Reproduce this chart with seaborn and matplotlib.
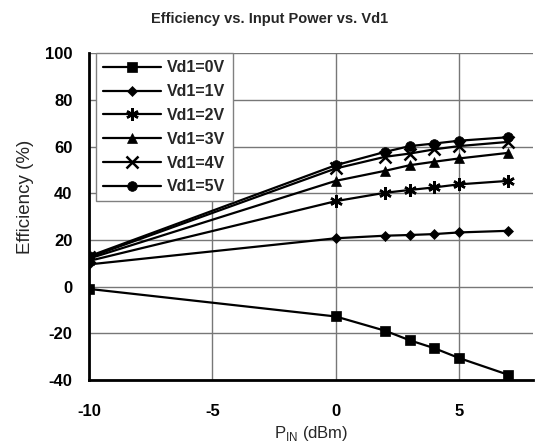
import matplotlib
matplotlib.use("Agg")
import matplotlib.pyplot as plt
import seaborn as sns
import pandas as pd
import numpy as np

# Input power sweep (dBm) and efficiency (%) for each Vd1 setting
p_in = [-10, 0, 2, 3, 4, 5, 7]
eff_0v = [-1.0, -12.8, -18.9, -23.0, -26.4, -30.6, -37.8]
eff_1v = [9.5, 20.7, 21.8, 22.1, 22.5, 23.2, 23.9]
eff_2v = [11.0, 36.6, 40.2, 41.4, 42.5, 43.8, 45.3]
eff_3v = [12.0, 45.3, 49.6, 52.0, 53.5, 54.9, 57.3]
eff_4v = [12.5, 50.6, 55.6, 57.0, 58.8, 60.2, 62.0]
eff_5v = [13.0, 52.0, 57.7, 60.2, 61.3, 62.5, 64.0]
labels = ["Vd1=0V", "Vd1=1V", "Vd1=2V", "Vd1=3V", "Vd1=4V", "Vd1=5V"]
x_ticks = [-10, -5, 0, 5]
y_ticks = [-40, -20, 0, 20, 40, 60, 80, 100]

sns.set_theme(style="white")
plt.rcParams['font.family'] = ['Liberation Sans', 'DejaVu Sans']
plt.rcParams['axes.unicode_minus'] = False
plt.rcParams['mathtext.fontset'] = 'custom'
plt.rcParams['mathtext.rm'] = 'Liberation Sans'

series = [eff_0v, eff_1v, eff_2v, eff_3v, eff_4v, eff_5v]
markers = ['s', 'D', (6, 2, 0), '^', 'x', 'o']
msizes = [7, 5, 9, 7, 8, 7]

fig, ax = plt.subplots(figsize=(5.4, 4.47), dpi=100)
fig.subplots_adjust(left=0.165, right=0.987, top=0.881, bottom=0.150)

for vals, lab, m, ms in zip(series, labels, markers, msizes):
    sns.lineplot(x=p_in, y=vals, ax=ax, color='black', linewidth=1.6,
                 marker=m, markersize=ms, markeredgewidth=1.8 if m in ('x', (6, 2, 0)) else 0.5,
                 markeredgecolor='black', markerfacecolor='black', label=lab)

ax.set_xlim(-10, 8)
ax.set_ylim(-40, 100)
ax.set_xticks(x_ticks)
ax.set_yticks(y_ticks)
ax.grid(True, color='#777777', linewidth=1.0)
ax.set_axisbelow(True)
for s in ('top', 'right'):
    ax.spines[s].set_visible(False)
for s in ('left', 'bottom'):
    ax.spines[s].set_color('black')
    ax.spines[s].set_linewidth(2.0)
ax.tick_params(axis='both', direction='inout', length=8, width=1.8, color='black',
               labelsize=12, labelcolor='black')
ax.tick_params(axis='y', pad=8)
ax.tick_params(axis='x', pad=13)
for t in ax.get_xticklabels() + ax.get_yticklabels():
    t.set_fontweight('bold')

fig.text(0.5, 0.958, "Efficiency vs. Input Power vs. Vd1", fontsize=10.5, fontweight='bold',
         ha='center', va='center')
ax.set_xlabel("P$_{\\mathregular{IN}}$ (dBm)", fontsize=12, labelpad=4)
ax.set_ylabel("Efficiency (%)", fontsize=13.5, labelpad=8)
ax.yaxis.set_label_coords(-0.125, 0.56)

leg = ax.legend(loc='upper left', bbox_to_anchor=(0.016, 1.0), frameon=True, fancybox=False,
                edgecolor='#808080', framealpha=1, borderaxespad=0, handlelength=3.6,
                handletextpad=0.4, prop={'size': 11.5, 'weight': 'bold'}, labelspacing=0.55,
                borderpad=0.45)
leg.get_frame().set_linewidth(1.0)

fig.savefig("out.png", dpi=100)
